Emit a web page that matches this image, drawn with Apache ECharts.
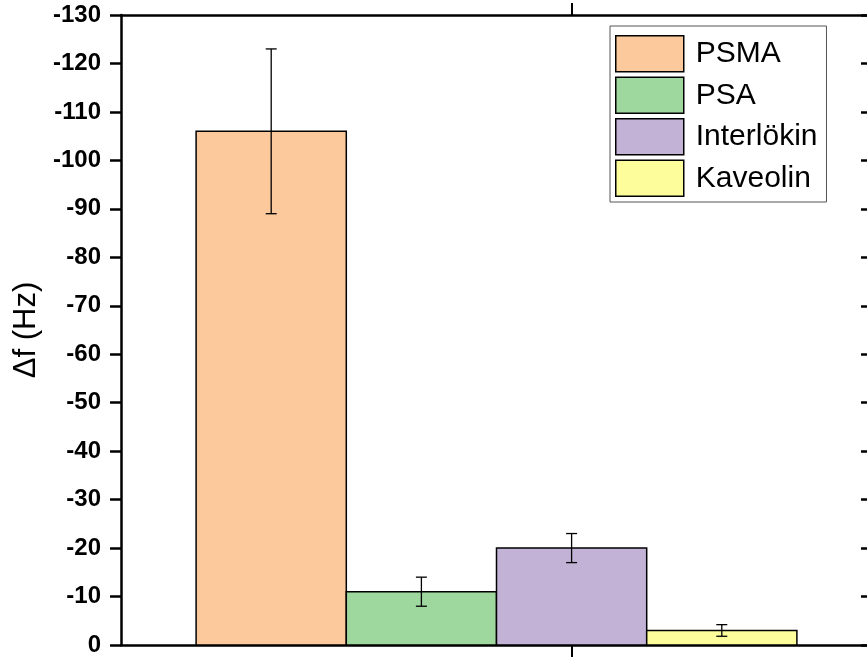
<!DOCTYPE html>
<html>
<head>
<meta charset="utf-8">
<script src="https://cdn.jsdelivr.net/npm/echarts@6/dist/echarts.min.js"></script>
<style>
  html, body { margin: 0; padding: 0; background: #fff; }
  #chart { width: 867px; height: 657px; }
</style>
</head>
<body>
<div id="chart"></div>
<script>
// Frequency shift per target, with standard deviation
const categories = ['PSMA', 'PSA', 'Interlökin', 'Kaveolin'];
const shifts = [-106, -11, -20, -3];
const errors = [17, 3, 3, 1.2];
const colors = ['#FBC99B', '#9FD89E', '#C2B2D6', '#FEFD9C'];
const yTicks = { min: -130, max: 0, step: 10 };

const FONT = 'Arial, "Liberation Sans", sans-serif';

function renderBar(params, api) {
  const x = api.value(0);
  const v = api.value(1);
  const e = api.value(2);
  const p0 = api.coord([x - 0.5, 0]);
  const p1 = api.coord([x + 0.5, v]);
  const top = api.coord([x, v - e]);
  const bot = api.coord([x, v + e]);
  const cap = 5.5;
  const lineStyle = { stroke: '#000', lineWidth: 1.3 };
  return {
    type: 'group',
    children: [
      {
        type: 'rect',
        shape: { x: p0[0], y: Math.min(p0[1], p1[1]), width: p1[0] - p0[0], height: Math.abs(p1[1] - p0[1]) },
        style: { fill: api.visual('color'), stroke: '#000', lineWidth: 1.5 }
      },
      { type: 'line', shape: { x1: top[0], y1: top[1], x2: bot[0], y2: bot[1] }, style: lineStyle },
      { type: 'line', shape: { x1: top[0] - cap, y1: top[1], x2: top[0] + cap, y2: top[1] }, style: lineStyle },
      { type: 'line', shape: { x1: bot[0] - cap, y1: bot[1], x2: bot[0] + cap, y2: bot[1] }, style: lineStyle }
    ]
  };
}

const series = categories.map((name, i) => ({
  name: name,
  type: 'custom',
  xAxisIndex: 0,
  yAxisIndex: 0,
  itemStyle: { color: colors[i] },
  renderItem: renderBar,
  encode: { x: 0, y: 1 },
  data: [[i + 1, shifts[i], errors[i]]],
  z: 3
}));

const axisLine = { show: true, onZero: false, lineStyle: { color: '#000', width: 2.5 } };

const option = {
  animation: false,
  backgroundColor: '#fff',
  // plot frame extends a few pixels past the right edge of the canvas
  grid: { left: 121, top: 15, width: 751, height: 630, outerBoundsMode: 'none', containLabel: false },
  legend: {
    orient: 'vertical',
    left: 610,
    top: 26,
    padding: [9, 9, 5, 5],
    itemWidth: 68,
    itemHeight: 36,
    itemGap: 4,
    icon: 'rect',
    borderColor: '#555',
    borderWidth: 1,
    backgroundColor: '#fff',
    textStyle: { fontFamily: FONT, fontSize: 30, color: '#000', padding: [0, 0, 0, 7] },
    data: categories.map((name, i) => ({
      name: name,
      itemStyle: { color: colors[i], borderColor: '#000', borderWidth: 1.5 }
    }))
  },
  xAxis: [
    {
      type: 'value', position: 'bottom', min: 0, max: 5,
      axisLine: axisLine,
      axisTick: { show: true, inside: false, length: 12, customValues: [3], lineStyle: { color: '#000', width: 2 } },
      axisLabel: { show: false },
      splitLine: { show: false }
    },
    {
      type: 'value', position: 'top', min: 0, max: 5,
      axisLine: axisLine,
      axisTick: { show: true, inside: false, length: 12, customValues: [3], lineStyle: { color: '#000', width: 2 } },
      axisLabel: { show: false },
      splitLine: { show: false }
    }
  ],
  yAxis: [
    {
      type: 'value', position: 'left', inverse: true,
      min: yTicks.min, max: yTicks.max, interval: yTicks.step,
      name: 'Δf (Hz)',
      nameLocation: 'middle',
      nameGap: 76,
      nameTextStyle: { fontFamily: FONT, fontSize: 31, color: '#000' },
      axisLine: axisLine,
      axisTick: { show: true, inside: false, length: 11, lineStyle: { color: '#000', width: 2.5 } },
      axisLabel: { fontFamily: FONT, fontSize: 24, fontWeight: 'bold', color: '#000', margin: 20 },
      splitLine: { show: false }
    },
    {
      type: 'value', position: 'right', inverse: true,
      min: yTicks.min, max: yTicks.max, interval: yTicks.step,
      axisLine: axisLine,
      axisTick: { show: true, inside: true, length: 11, lineStyle: { color: '#000', width: 2.5 } },
      axisLabel: { show: false },
      splitLine: { show: false }
    }
  ],
  series: series
};

const chart = echarts.init(document.getElementById('chart'), null, { renderer: 'canvas' });
chart.setOption(option);
</script>
</body>
</html>
